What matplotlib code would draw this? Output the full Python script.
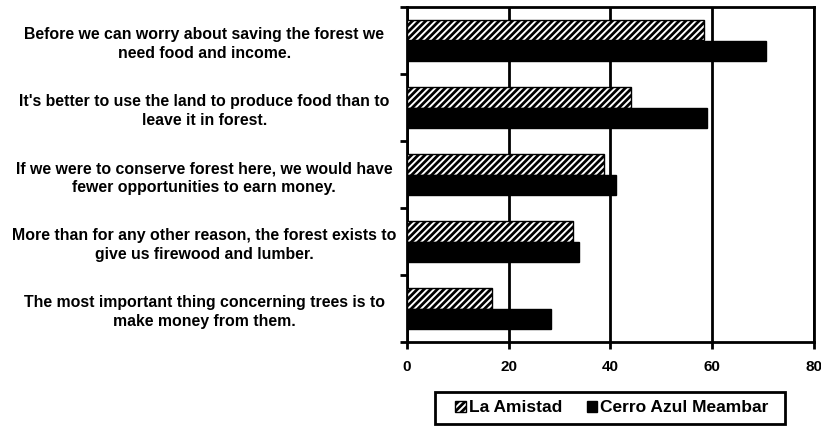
import matplotlib
matplotlib.use("Agg")
import matplotlib.pyplot as plt
from matplotlib.patches import Rectangle
import numpy as np

categories = [
    "Before we can worry about saving the forest we\nneed food and income.",
    "It's better to use the land to produce food than to\nleave it in forest.",
    "If we were to conserve forest here, we would have\nfewer opportunities to earn money.",
    "More than for any other reason, the forest exists to\ngive us firewood and lumber.",
    "The most important thing concerning trees is to\nmake money from them.",
]
la_amistad = [58.4, 44.0, 38.7, 32.6, 16.7]
cerro_azul = [70.6, 59.0, 41.1, 33.8, 28.3]
series_names = ["La Amistad", "Cerro Azul Meambar"]
xticks = [0, 20, 40, 60, 80]

plt.rcParams['font.family'] = ['Liberation Sans', 'DejaVu Sans']
plt.rcParams['font.weight'] = 'bold'
plt.rcParams['hatch.linewidth'] = 2.0
plt.rcParams['hatch.color'] = 'black'

W, H = 821, 426
fig = plt.figure(figsize=(W/100, H/100), dpi=100)
ax = fig.add_axes([0.4957, 0.197, 0.4958, 0.7866])

y = np.arange(len(categories))
h = 0.30
ax.barh(y - h/2, la_amistad, height=h, color='white', edgecolor='black',
        hatch='/////', linewidth=1.0, label=series_names[0], zorder=3)
ax.barh(y + h/2 + 0.01, cerro_azul, height=h, color='black', edgecolor='black',
        linewidth=1.0, label=series_names[1], zorder=3)

ax.set_xlim(0, 80)
ax.set_ylim(len(categories) - 0.5, -0.5)
ax.set_xticks(xticks)
ax.set_xticklabels([str(t) for t in xticks], fontsize=11, fontweight='bold')
ax.xaxis.grid(True, color='black', linewidth=2, zorder=0)
ax.set_axisbelow(True)

ax.set_yticks(y)
ax.set_yticklabels(categories, fontsize=11.4, fontweight='bold', ha='center',
                   multialignment='center', linespacing=1.3)
ax.tick_params(axis='y', which='major', length=0, pad=146)
ax.set_yticks(np.arange(-0.5, len(categories) + 0.5, 1), minor=True)
ax.tick_params(axis='y', which='minor', length=5, width=2, direction='out')
ax.tick_params(axis='x', which='major', length=5, width=2, direction='out', pad=8)

for s in ax.spines.values():
    s.set_linewidth(2)
    s.set_color('black')

leg = fig.legend(loc='center', ncol=2,
                 bbox_to_anchor=(612/W, 1 - 408/H),
                 bbox_transform=fig.transFigure,
                 fontsize=12.5, frameon=False,
                 handlelength=0.6, handleheight=0.6, handletextpad=0.2,
                 columnspacing=1.4, borderpad=0.3, borderaxespad=0)
for t in leg.get_texts():
    t.set_fontweight('bold')
fig.patches.append(Rectangle((435/W, 1 - 424/H), 350/W, 32/H,
                             transform=fig.transFigure, fill=False,
                             edgecolor='black', linewidth=2))

fig.savefig("out.png", dpi=100)
